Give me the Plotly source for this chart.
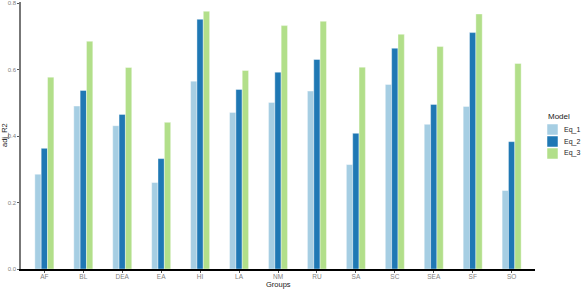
import plotly.graph_objects as go

groups = ["AF", "BL", "DEA", "EA", "HI", "LA", "NM", "RU", "SA", "SC", "SEA", "SF", "SO"]
eq_1 = [0.285, 0.490, 0.431, 0.260, 0.565, 0.471, 0.501, 0.535, 0.314, 0.555, 0.435, 0.489, 0.236]
eq_2 = [0.363, 0.537, 0.465, 0.332, 0.751, 0.540, 0.592, 0.630, 0.408, 0.664, 0.495, 0.711, 0.383]
eq_3 = [0.577, 0.685, 0.606, 0.441, 0.775, 0.597, 0.732, 0.745, 0.607, 0.706, 0.669, 0.767, 0.618]
series_names = ["Eq_1", "Eq_2", "Eq_3"]
colors = ["#A6CEE3", "#1F78B4", "#B2DF8A"]

W, H = 581, 289
L, R, T, B = 21, 46, 2, 20
pw, ph = W - L - R, H - T - B

def px(x):
    return (x - L) / pw

def py(y):
    return (H - B - y) / ph

bw = 0.163
fig = go.Figure()
for i, (name, vals, col) in enumerate(zip(series_names, [eq_1, eq_2, eq_3], colors)):
    fig.add_trace(go.Bar(
        x=list(range(len(groups))), y=vals, name=name,
        marker=dict(color=col, line=dict(color="white", width=0.4)),
        width=bw, offset=-1.5 * bw + i * bw, showlegend=False,
    ))

# legend (drawn manually to match the compact ggplot legend)
fig.add_annotation(x=px(546), y=py(116), xref="paper", yref="paper", text="Model",
                   showarrow=False, xanchor="left", yanchor="middle",
                   font=dict(size=8, color="#222"))
for i, (name, col) in enumerate(zip(series_names, colors)):
    y0 = 124 + i * 12
    fig.add_shape(type="rect", xref="paper", yref="paper",
                  x0=px(547), x1=px(558), y0=py(y0), y1=py(y0 + 11),
                  fillcolor=col, line=dict(color="white", width=0.5))
    fig.add_annotation(x=px(562), y=py(y0 + 5.5), xref="paper", yref="paper", text=name,
                       showarrow=False, xanchor="left", yanchor="middle",
                       font=dict(size=7, color="#222"))

fig.add_annotation(x=px(278), y=py(284.5), xref="paper", yref="paper", text="Groups",
                   showarrow=False, xanchor="center", yanchor="middle",
                   font=dict(size=7.5, color="#222"))
fig.add_annotation(x=px(4), y=py(135), xref="paper", yref="paper", text="adj_R2",
                   showarrow=False, xanchor="center", yanchor="middle", textangle=-90,
                   font=dict(size=7.5, color="#222"))

fig.update_layout(
    width=W, height=H,
    margin=dict(l=L, r=R, t=T, b=B, autoexpand=False),
    paper_bgcolor="white", plot_bgcolor="white",
    barmode="overlay",
    font=dict(family="Liberation Sans, Arial, sans-serif", color="#7f7f7f", size=7),
    xaxis=dict(
        tickmode="array", tickvals=list(range(len(groups))), ticktext=groups,
        range=[-0.6, 12.6], showline=True, linecolor="black", linewidth=1.5,
        ticks="outside", ticklen=2, tickcolor="#555", tickwidth=0.7,
        showgrid=False, zeroline=False, automargin=False,
        ticklabelstandoff=-2,
        tickfont=dict(size=6.5, color="#7f7f7f"),
    ),
    yaxis=dict(
        range=[0, 0.803], tickvals=[0, 0.2, 0.4, 0.6, 0.8],
        ticktext=["0.0", "0.2", "0.4", "0.6", "0.8"],
        showline=True, linecolor="#777777", linewidth=1.5,
        ticks="outside", ticklen=2, tickcolor="#555", tickwidth=0.7,
        showgrid=False, zeroline=False, automargin=False,
        tickfont=dict(size=6, color="#7f7f7f"),
    ),
    showlegend=False,
)

fig.write_html("out.html", config={"displayModeBar": False},
               post_script="document.body.style.margin='0';document.body.style.overflow='hidden';")
